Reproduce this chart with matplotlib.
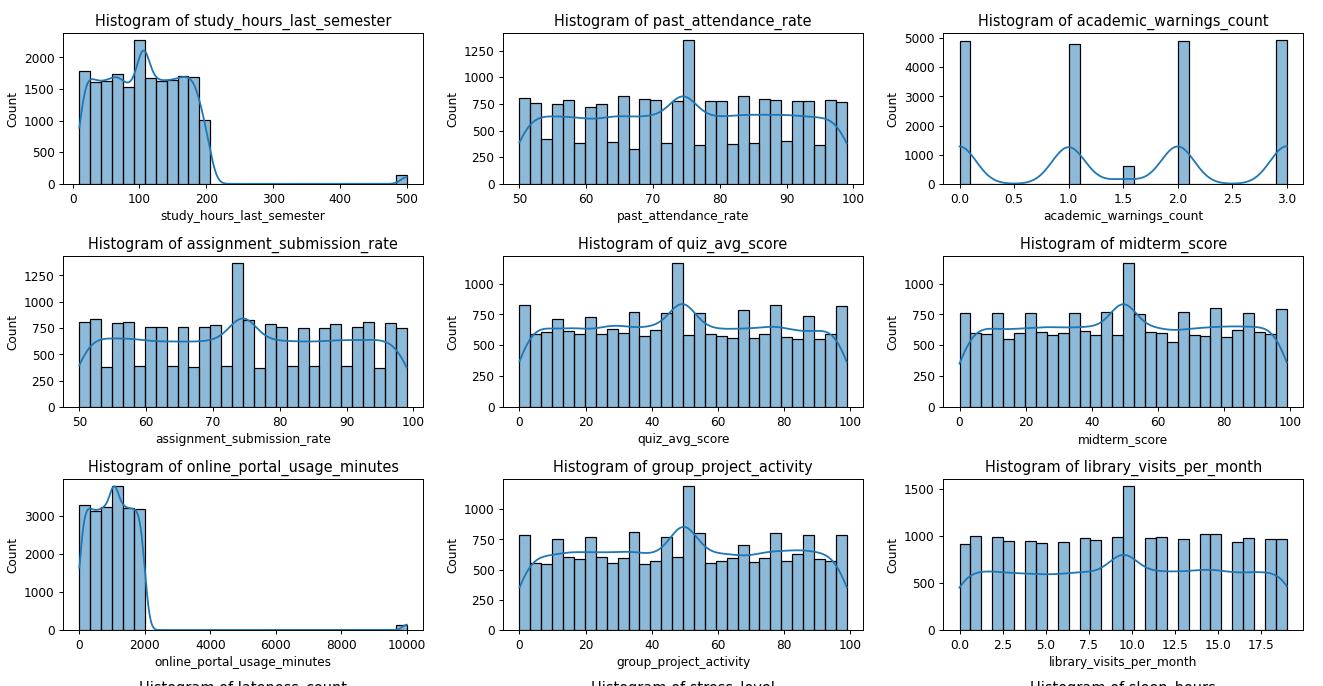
import math
import numpy as np
import matplotlib.pyplot as plt

N_BINS = 30

# binned columns: (min, max) of the data and the count in each of the 30 bins
study_hours_range = (10, 500)
study_hours_counts = [1789, 1615, 1631, 1736, 1525, 2274, 1667, 1631, 1641, 1704,
                      1689, 1008] + [0] * 17 + [142]
# single values that hold many rows (filled-in mean, capped outliers): (value, count)
study_hours_spikes = [(106, 600), (500, 142)]

attendance_range = (50, 99)
attendance_counts = [805, 760, 420, 750, 790, 380, 725, 750, 390, 825,
                     330, 800, 783, 380, 780, 1350, 365, 777, 777, 370,
                     825, 380, 800, 790, 405, 780, 780, 360, 783, 770]
attendance_spikes = [(74.52, 570)]

submission_range = (50, 99)
submission_counts = [804, 832, 383, 794, 810, 389, 763, 756, 389, 756,
                     377, 763, 775, 389, 1367, 826, 367, 785, 763, 389,
                     750, 389, 750, 791, 389, 763, 807, 367, 801, 747]
submission_spikes = [(74.45, 577)]

quiz_range = (0, 99)
quiz_counts = [825, 588, 609, 717, 617, 588, 730, 588, 631, 598,
               771, 574, 623, 765, 1167, 582, 765, 588, 574, 561,
               790, 561, 588, 825, 566, 555, 739, 555, 588, 819]
quiz_spikes = [(49.3, 577)]

midterm_range = (0, 99)
midterm_counts = [765, 596, 588, 765, 555, 596, 760, 604, 582, 596,
                  760, 612, 582, 774, 582, 1167, 752, 604, 596, 523,
                  774, 582, 574, 806, 569, 628, 760, 609, 590, 798]
midterm_spikes = [(49.6, 577)]

portal_range = (0, 10000)
portal_counts = [3281, 3140, 3254, 3791, 3210, 3184] + [0] * 23 + [132]
portal_spikes = [(1060, 470), (10000, 132)]

group_range = (0, 99)
group_counts = [788, 558, 549, 753, 607, 585, 766, 607, 558, 596,
                810, 549, 571, 766, 607, 1190, 802, 558, 571, 599,
                706, 563, 596, 802, 571, 632, 788, 585, 569, 788]
group_spikes = [(49.6, 600)]

# discrete columns: observed values and how often each occurs
warnings_range = (0, 3)
warnings_values = [0, 1, 1.503, 2, 3]
warnings_counts = [4886, 4794, 595, 4886, 4931]

library_range = (0, 19)
library_values = list(range(20)) + [9.52]
library_counts = [916, 1001, 990, 952, 952, 927, 941, 983, 962, 990,
                  980, 983, 990, 973, 1022, 1022, 941, 983, 973, 973, 552]

next_row_columns = ["lateness_count", "stress_level", "sleep_hours"]

BAR_COLOR = (0.122, 0.467, 0.706, 0.5)
LINE_COLOR = "#1f77b4"

erf = np.vectorize(math.erf)


def norm_cdf(z):
    return 0.5 * (1 + erf(z / math.sqrt(2)))


def bin_of(edges, v):
    return int(np.clip(np.searchsorted(edges, v, side="right") - 1, 0, N_BINS - 1))


def gauss_sum(points, weights, bw, grid):
    z = (grid[:, None] - points[None, :]) / bw
    return (weights[None, :] * np.exp(-0.5 * z ** 2)).sum(axis=1) / (bw * math.sqrt(2 * math.pi))


def kde_binned(edges, counts, spikes, integer, grid):
    # gaussian kde (scott bandwidth, cut=0) scaled to counts like seaborn
    width = edges[1] - edges[0]
    rest = counts.copy()
    for v, c in spikes:
        rest[bin_of(edges, v)] -= c
    sp_x = np.array([v for v, c in spikes], dtype=float)
    sp_w = np.array([c for v, c in spikes], dtype=float)

    if integer:
        # integer data: share each bin among the whole numbers inside it
        ints = np.arange(math.ceil(edges[0]), math.floor(edges[-1]) + 1)
        idx = np.array([bin_of(edges, k) for k in ints])
        per_bin = np.bincount(idx, minlength=N_BINS)
        pts = np.concatenate([ints, sp_x])
        wts = np.concatenate([rest[idx] / per_bin[idx], sp_w])
        n = wts.sum()
        mean = (pts * wts).sum() / n
        bw = math.sqrt(((pts - mean) ** 2 * wts).sum() / n) * n ** (-1 / 5)
        return gauss_sum(pts, wts, bw, grid) * width

    centers = (edges[:-1] + edges[1:]) / 2
    n = rest.sum() + sp_w.sum()
    mean = ((centers * rest).sum() + (sp_x * sp_w).sum()) / n
    var = (((centers - mean) ** 2 * rest).sum() + rest.sum() * width ** 2 / 12
           + ((sp_x - mean) ** 2 * sp_w).sum()) / n
    bw = math.sqrt(var) * n ** (-1 / 5)
    lo = (grid[:, None] - edges[None, :-1]) / bw
    hi = (grid[:, None] - edges[None, 1:]) / bw
    spread = (rest[None, :] * (norm_cdf(lo) - norm_cdf(hi))).sum(axis=1)
    return spread + gauss_sum(sp_x, sp_w, bw, grid) * width


def kde_points(values, counts, width, grid):
    n = counts.sum()
    mean = (values * counts).sum() / n
    bw = math.sqrt(((values - mean) ** 2 * counts).sum() / n) * n ** (-1 / 5)
    return gauss_sum(values, counts, bw, grid) * width


# name, range, counts, spikes (binned) or values (discrete), integer-valued
charts = [
    ("study_hours_last_semester", study_hours_range, study_hours_counts, study_hours_spikes, False),
    ("past_attendance_rate", attendance_range, attendance_counts, attendance_spikes, True),
    ("academic_warnings_count", warnings_range, warnings_counts, warnings_values, None),
    ("assignment_submission_rate", submission_range, submission_counts, submission_spikes, True),
    ("quiz_avg_score", quiz_range, quiz_counts, quiz_spikes, True),
    ("midterm_score", midterm_range, midterm_counts, midterm_spikes, True),
    ("online_portal_usage_minutes", portal_range, portal_counts, portal_spikes, False),
    ("group_project_activity", group_range, group_counts, group_spikes, True),
    ("library_visits_per_month", library_range, library_counts, library_values, None),
]

W, H = 1323, 686
DPI = 87
fig = plt.figure(figsize=((W + 0.2) / DPI, (H + 0.2) / DPI), dpi=DPI)

col_left = [63, 503, 943]
row_top = [33, 256, 479, 700]
ax_w, ax_h = 360, 151


def make_axes(row, col):
    left = col_left[col] / W
    bottom = 1 - (row_top[row] + ax_h) / H
    return fig.add_axes([left, bottom, ax_w / W, ax_h / H])


for i, (name, (lo, hi), counts, extra, integer) in enumerate(charts):
    ax = make_axes(i // 3, i % 3)
    edges = np.linspace(lo, hi, N_BINS + 1)
    width = edges[1] - edges[0]
    grid = np.linspace(lo, hi, 300)
    counts = np.array(counts, dtype=float)
    if integer is None:
        values = np.array(extra, dtype=float)
        heights, _ = np.histogram(values, bins=edges, weights=counts)
        curve = kde_points(values, counts, width, grid)
    else:
        heights = counts
        curve = kde_binned(edges, counts, extra, integer, grid)

    ax.bar(edges[:-1], heights, width=width, align="edge",
           facecolor=BAR_COLOR, edgecolor="black", linewidth=1)
    ax.plot(grid, curve, color=LINE_COLOR, linewidth=1.5)
    ax.set_title(f"Histogram of {name}")
    ax.set_xlabel(name)
    ax.set_ylabel("Count")

# the next row of the grid starts just below the visible area
for j, name in enumerate(next_row_columns):
    ax = make_axes(3, j)
    ax.set_title(f"Histogram of {name}")
    ax.axis("off")

fig.savefig("out.png", dpi=DPI)
